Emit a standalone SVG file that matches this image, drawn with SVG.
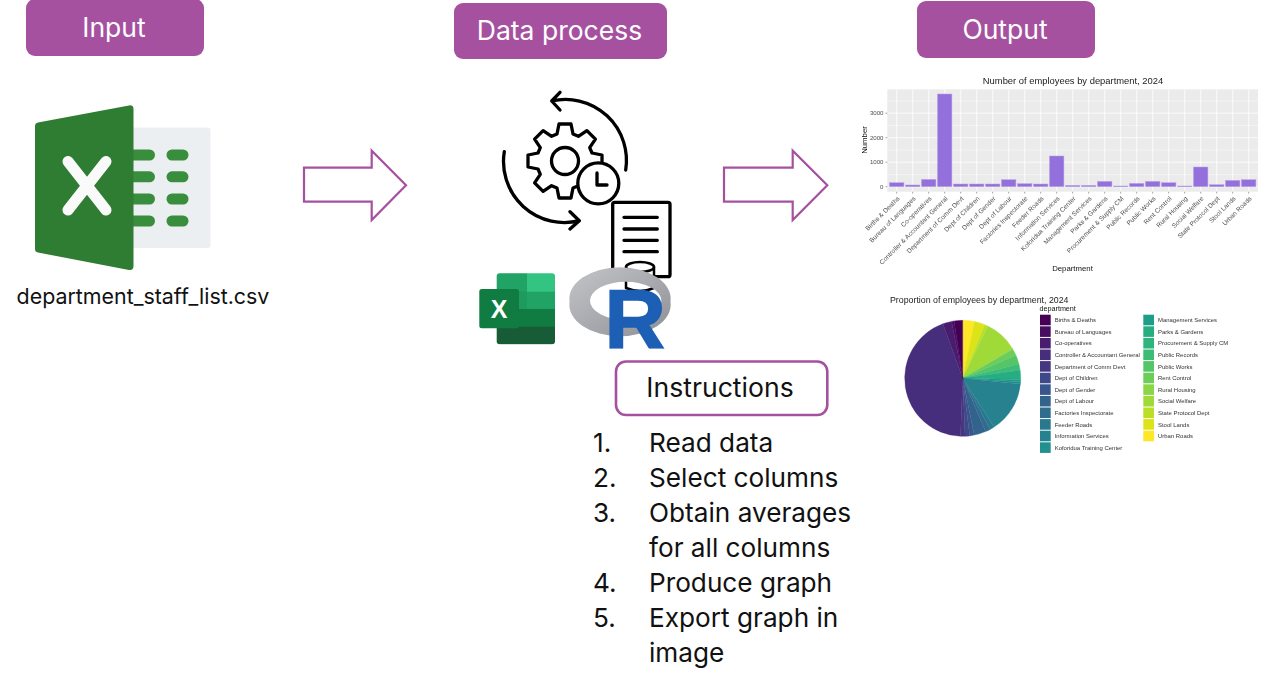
<svg xmlns="http://www.w3.org/2000/svg" width="1262" height="688" viewBox="0 0 1262 688">
<style>
.hdr{fill:#A6519F}
.hdrt{fill:#fff;font:26.5px Inter,"Noto Sans",sans-serif;text-anchor:middle}
.blk{fill:#111;font:26.2px Inter,"Noto Sans",sans-serif}
.arrow{fill:#fff;stroke:#A6519F;stroke-width:2.2}
.ar{font-family:"Liberation Sans",Arial,sans-serif}
.t{font-size:9.4px;fill:#222}
.ax{font-size:7.8px;fill:#111;text-anchor:middle}
.tick{font-size:6.5px;fill:#4d4d4d;text-anchor:end}
.ytick{font-size:6.1px;fill:#4d4d4d;text-anchor:end}
.bar{fill:#9370DB;stroke:#B9A2E8;stroke-width:.5}
.lg{font-size:5.95px;fill:#333}
.ic{fill:none;stroke:#000;stroke-width:3.3;stroke-linecap:round;stroke-linejoin:round}
.bl{fill:#388E3C}
</style>
<defs>
<filter id="soft" x="-5%" y="-5%" width="110%" height="110%"><feGaussianBlur stdDeviation="0.5"/></filter>
<linearGradient id="ring" x1="0" y1="0" x2="1" y2="1"><stop offset="0" stop-color="#c4c5c9"/><stop offset="0.6" stop-color="#a4a5aa"/><stop offset="1" stop-color="#8f9095"/></linearGradient>
<clipPath id="xl"><rect x="496.7" y="273.3" width="58.3" height="71" rx="3"/></clipPath>
<clipPath id="rclip"><rect x="600" y="280" width="80" height="68.5"/></clipPath>
</defs>

<g id="connectors">
<path class="arrow" d="M304 167.7H371.7V150.7L406 185.3 371.7 220V201.7H304Z"/>
<path class="arrow" d="M724 167.7H792.7V150.7L827.3 185.3 792.7 220V201.7H724Z"/>
</g>

<g id="input-header"><rect class="hdr" x="26" y="-1" width="178" height="57" rx="9"/><text class="hdrt" x="114" y="37">Input</text></g>
<g id="process-header"><rect class="hdr" x="454" y="3" width="213" height="56" rx="9"/><text class="hdrt" x="559.5" y="40">Data process</text></g>
<g id="output-header"><rect class="hdr" x="917" y="1" width="178" height="57" rx="9"/><text class="hdrt" x="1005" y="39">Output</text></g>

<g id="input-file">
<rect x="125" y="127.5" width="85.5" height="120.5" rx="3" fill="#ECEFF1"/>
<rect class="bl" x="125" y="149.5" width="30" height="11" rx="5.5"/><rect class="bl" x="125" y="171.3" width="30" height="11" rx="5.5"/><rect class="bl" x="125" y="193.5" width="30" height="11" rx="5.5"/><rect class="bl" x="125" y="215.5" width="30" height="11" rx="5.5"/>
<rect class="bl" x="166.5" y="149.5" width="22" height="11" rx="5.5"/><rect class="bl" x="166.5" y="171.3" width="22" height="11" rx="5.5"/><rect class="bl" x="166.5" y="193.5" width="22" height="11" rx="5.5"/><rect class="bl" x="166.5" y="215.5" width="22" height="11" rx="5.5"/>
<path d="M38 122.5 129 105.4Q133.5 104.8 133.5 109V266Q133.5 270.6 129 270L38 252.5Q35 252 35 249V126Q35 123 38 122.5Z" fill="#2E7D32"/>
<path d="M68 161.5 106 210M106 161.5 68 210" stroke="#FAFAFA" stroke-width="11" stroke-linecap="round" fill="none"/>
<text class="blk" x="143" y="304" text-anchor="middle" style="font-size:21.4px">department_staff_list.csv</text>
</g>

<g id="process-icons">
<g filter="url(#soft)">
<rect class="ic" x="612.7" y="202.3" width="57.3" height="74.4" rx="2"/>
<path class="ic" d="M624 217.3H657.3M624 229H657.3M624 240.3H657.3M624 251.7H657.3"/>
<ellipse cx="640" cy="267" rx="14" ry="5" fill="#fff" stroke="#000" stroke-width="2.5"/>
<path class="ic" d="M626 267V288M654 267V288M626 288Q640 294 654 288" style="stroke-width:2.5"/>
<path class="ic" d="M625.7 170A61 61 0 0 0 551.7 101M560 92.3 551.7 101 560 110"/>
<path class="ic" d="M504.3 151.7A61 61 0 0 0 579.3 220.7M570 211.7 579.3 220.7 570 229"/>
<path class="ic" transform="translate(565 161)" d="M-8-27-6-37H6L8-27 13.4-24.7 21.9-30.4 30.4-21.9 24.7-13.4 27-8 37-6V6L27 8 24.7 13.4 30.4 21.9 21.9 30.4 13.4 24.7 8 27 6 37H-6L-8 27-13.4 24.7-21.9 30.4-30.4 21.9-24.7 13.4-27 8-37 6V-6L-27-8-24.7-13.4-30.4-21.9-21.9-30.4-13.4-24.7Z"/>
<circle class="ic" cx="565" cy="161" r="13.5"/>
<circle class="ic" cx="598.3" cy="183.3" r="20.5" style="fill:#fff"/>
<path class="ic" d="M597 173V185H607"/>
</g>
<g clip-path="url(#xl)">
<rect x="496" y="273" width="31" height="19" fill="#21A366"/><rect x="527" y="273" width="29" height="19" fill="#33C481"/>
<rect x="496" y="291.7" width="31" height="18" fill="#1E9A5E"/><rect x="527" y="291.7" width="29" height="18" fill="#21A366"/>
<rect x="496" y="309" width="60" height="18" fill="#107C41"/>
<rect x="496" y="326.7" width="60" height="18" fill="#185C37"/>
</g>
<rect x="479.3" y="289" width="39.7" height="39.3" rx="2.5" fill="#107C41"/>
<text class="ar" x="499" y="317.5" text-anchor="middle" font-size="25" font-weight="700" fill="#fff">X</text>
<path fill="url(#ring)" fill-rule="evenodd" d="M569.5 301.7A50.7 31.7 0 1 1 670.5 301.7 50.7 31.7 0 1 1 569.5 301.7ZM590 300.7A35.7 19 0 1 0 661.4 300.7 35.7 19 0 1 0 590 300.7Z"/>
<g clip-path="url(#rclip)"><text class="ar" x="604.5" y="348.5" font-size="85" font-weight="700" fill="#1C5FB5" stroke="#1C5FB5" stroke-width="1.5">R</text></g>
</g>

<g id="instructions">
<rect x="616" y="361.5" width="211.3" height="53.5" rx="10" fill="#fff" stroke="#A6519F" stroke-width="2.6"/>
<text class="blk" x="720" y="397" text-anchor="middle" style="font-size:26.6px">Instructions</text>
</g>
<g id="steps">
<text class="blk" x="593" y="452">1.</text><text class="blk" x="649" y="452">Read data</text>
<text class="blk" x="593" y="487">2.</text><text class="blk" x="649" y="487">Select columns</text>
<text class="blk" x="593" y="522">3.</text><text class="blk" x="649" y="522">Obtain averages</text>
<text class="blk" x="649" y="557">for all columns</text>
<text class="blk" x="593" y="592">4.</text><text class="blk" x="649" y="592">Produce graph</text>
<text class="blk" x="593" y="627">5.</text><text class="blk" x="649" y="627">Export graph in</text>
<text class="blk" x="649" y="662">image</text>
</g>

<g id="bar-chart" class="ar" filter="url(#soft)">
<text class="t" x="1073" y="83.5" text-anchor="middle">Number of employees by department, 2024</text>
<rect x="887.3" y="89.3" width="370.7" height="102.4" fill="#EBEBEB"/>
<path d="M887.3 174.5H1258M887.3 150H1258M887.3 125.5H1258M887.3 101H1258" stroke="#fff" stroke-width=".4" fill="none"/>
<path d="M887.3 186.7H1258M887.3 162.2H1258M887.3 137.7H1258M887.3 113.2H1258M896.7 89.3V191.7M912.7 89.3V191.7M928.7 89.3V191.7M944.7 89.3V191.7M960.7 89.3V191.7M976.7 89.3V191.7M992.7 89.3V191.7M1008.7 89.3V191.7M1024.7 89.3V191.7M1040.7 89.3V191.7M1056.7 89.3V191.7M1072.7 89.3V191.7M1088.7 89.3V191.7M1104.7 89.3V191.7M1120.7 89.3V191.7M1136.7 89.3V191.7M1152.7 89.3V191.7M1168.7 89.3V191.7M1184.7 89.3V191.7M1200.7 89.3V191.7M1216.7 89.3V191.7M1232.7 89.3V191.7M1248.7 89.3V191.7" stroke="#fff" stroke-width=".8" fill="none"/>
<rect class="bar" x="889.5" y="182.7" width="14.4" height="4"/><rect class="bar" x="905.5" y="185" width="14.4" height="1.7"/><rect class="bar" x="921.5" y="179.4" width="14.4" height="7.3"/><rect class="bar" x="937.5" y="94" width="14.4" height="92.7"/><rect class="bar" x="953.5" y="184" width="14.4" height="2.7"/><rect class="bar" x="969.5" y="184" width="14.4" height="2.7"/><rect class="bar" x="985.5" y="184" width="14.4" height="2.7"/><rect class="bar" x="1001.5" y="179.7" width="14.4" height="7"/><rect class="bar" x="1017.5" y="183.7" width="14.4" height="3"/><rect class="bar" x="1033.5" y="184" width="14.4" height="2.7"/><rect class="bar" x="1049.5" y="156" width="14.4" height="30.7"/><rect class="bar" x="1065.5" y="185.4" width="14.4" height="1.3"/><rect class="bar" x="1081.5" y="185.4" width="14.4" height="1.3"/><rect class="bar" x="1097.5" y="181.4" width="14.4" height="5.3"/><rect class="bar" x="1113.5" y="186" width="14.4" height=".7"/><rect class="bar" x="1129.5" y="183.4" width="14.4" height="3.3"/><rect class="bar" x="1145.5" y="181.4" width="14.4" height="5.3"/><rect class="bar" x="1161.5" y="182.7" width="14.4" height="4"/><rect class="bar" x="1177.5" y="186" width="14.4" height=".7"/><rect class="bar" x="1193.5" y="167" width="14.4" height="19.7"/><rect class="bar" x="1209.5" y="184.7" width="14.4" height="2"/><rect class="bar" x="1225.5" y="180.4" width="14.4" height="6.3"/><rect class="bar" x="1241.5" y="179.7" width="14.4" height="7"/>
<path d="M885.5 186.7H887.3M885.5 162.2H887.3M885.5 137.7H887.3M885.5 113.2H887.3M896.7 191.7V193.5M912.7 191.7V193.5M928.7 191.7V193.5M944.7 191.7V193.5M960.7 191.7V193.5M976.7 191.7V193.5M992.7 191.7V193.5M1008.7 191.7V193.5M1024.7 191.7V193.5M1040.7 191.7V193.5M1056.7 191.7V193.5M1072.7 191.7V193.5M1088.7 191.7V193.5M1104.7 191.7V193.5M1120.7 191.7V193.5M1136.7 191.7V193.5M1152.7 191.7V193.5M1168.7 191.7V193.5M1184.7 191.7V193.5M1200.7 191.7V193.5M1216.7 191.7V193.5M1232.7 191.7V193.5M1248.7 191.7V193.5" stroke="#444" stroke-width=".5" fill="none"/>
<text class="ytick" x="883.5" y="188.9">0</text><text class="ytick" x="883.5" y="164.4">1000</text><text class="ytick" x="883.5" y="139.9">2000</text><text class="ytick" x="883.5" y="115.4">3000</text>
<text class="tick" transform="translate(900 199) rotate(-45)">Births &amp; Deaths</text>
<text class="tick" transform="translate(916 199) rotate(-45)">Bureau of Languages</text>
<text class="tick" transform="translate(932 199) rotate(-45)">Co-operatives</text>
<text class="tick" transform="translate(948 199) rotate(-45)">Controller &amp; Accountant General</text>
<text class="tick" transform="translate(964 199) rotate(-45)">Department of Comm Devt</text>
<text class="tick" transform="translate(980 199) rotate(-45)">Dept of Children</text>
<text class="tick" transform="translate(996 199) rotate(-45)">Dept of Gender</text>
<text class="tick" transform="translate(1012 199) rotate(-45)">Dept of Labour</text>
<text class="tick" transform="translate(1028 199) rotate(-45)">Factories Inspectorate</text>
<text class="tick" transform="translate(1044 199) rotate(-45)">Feeder Roads</text>
<text class="tick" transform="translate(1060 199) rotate(-45)">Information Services</text>
<text class="tick" transform="translate(1076 199) rotate(-45)">Koforidua Training Center</text>
<text class="tick" transform="translate(1092 199) rotate(-45)">Management Services</text>
<text class="tick" transform="translate(1108 199) rotate(-45)">Parks &amp; Gardens</text>
<text class="tick" transform="translate(1124 199) rotate(-45)">Procurement &amp; Supply CM</text>
<text class="tick" transform="translate(1140 199) rotate(-45)">Public Records</text>
<text class="tick" transform="translate(1156 199) rotate(-45)">Public Works</text>
<text class="tick" transform="translate(1172 199) rotate(-45)">Rent Control</text>
<text class="tick" transform="translate(1188 199) rotate(-45)">Rural Housing</text>
<text class="tick" transform="translate(1204 199) rotate(-45)">Social Welfare</text>
<text class="tick" transform="translate(1220 199) rotate(-45)">State Protocol Dept</text>
<text class="tick" transform="translate(1236 199) rotate(-45)">Stool Lands</text>
<text class="tick" transform="translate(1252 199) rotate(-45)">Urban Roads</text>
<text class="ax" x="1072.5" y="270.5">Department</text>
<text class="ax" transform="translate(866.5 140) rotate(-90)">Number</text>
</g>

<g id="pie-chart" class="ar" filter="url(#soft)">
<text class="t" x="890" y="303.2" style="font-size:8.8px">Proportion of employees by department, 2024</text>
<text x="1039.5" y="311" font-size="7.2" fill="#111">department</text>
<g stroke-width=".3">
<path fill="#FDE725" stroke="#FDE725" d="M962.7 378.3V320.3A58 58 0 0 1 974.5 321.5Z"/>
<path fill="#DCE319" stroke="#DCE319" d="M962.7 378.3L974.5 321.5A58 58 0 0 1 984.8 324.7Z"/>
<path fill="#BBDF27" stroke="#BBDF27" d="M962.7 378.3L984.8 324.7A58 58 0 0 1 987.9 326Z"/>
<path fill="#A0DA39" stroke="#A0DA39" d="M962.7 378.3L987.9 326A58 58 0 0 1 1012.3 348.2Z"/>
<path fill="#8BD646" stroke="#8BD646" d="M962.7 378.3L1012.3 348.2A58 58 0 0 1 1012.9 349.2Z"/>
<path fill="#6DCD59" stroke="#6DCD59" d="M962.7 378.3L1012.9 349.2A58 58 0 0 1 1016 355.3Z"/>
<path fill="#55C667" stroke="#55C667" d="M962.7 378.3L1016 355.3A58 58 0 0 1 1018.9 363.9Z"/>
<path fill="#3CBC75" stroke="#3CBC75" d="M962.7 378.3L1018.9 363.9A58 58 0 0 1 1020 369.5Z"/>
<path fill="#2FB47C" stroke="#2FB47C" d="M962.7 378.3L1020 369.5A58 58 0 0 1 1020.2 370.3Z"/>
<path fill="#27AD81" stroke="#27AD81" d="M962.7 378.3L1020.2 370.3A58 58 0 0 1 1020.7 379.4Z"/>
<path fill="#1F9E89" stroke="#1F9E89" d="M962.7 378.3L1020.7 379.4A58 58 0 0 1 1020.6 381.7Z"/>
<path fill="#21908C" stroke="#21908C" d="M962.7 378.3L1020.6 381.7A58 58 0 0 1 1020.4 384Z"/>
<path fill="#26828E" stroke="#26828E" d="M962.7 378.3L1020.4 384A58 58 0 0 1 994.1 427.1Z"/>
<path fill="#2A788E" stroke="#2A788E" d="M962.7 378.3L994.1 427.1A58 58 0 0 1 990.2 429.4Z"/>
<path fill="#2E6D8E" stroke="#2E6D8E" d="M962.7 378.3L990.2 429.4A58 58 0 0 1 985.6 431.6Z"/>
<path fill="#33638D" stroke="#33638D" d="M962.7 378.3L985.6 431.6A58 58 0 0 1 974.2 435.1Z"/>
<path fill="#39568C" stroke="#39568C" d="M962.7 378.3L974.2 435.1A58 58 0 0 1 969.7 435.9Z"/>
<path fill="#3E4A89" stroke="#3E4A89" d="M962.7 378.3L969.7 435.9A58 58 0 0 1 965.1 436.3Z"/>
<path fill="#453781" stroke="#453781" d="M962.7 378.3L965.1 436.3A58 58 0 0 1 960.5 436.3Z"/>
<path fill="#472D7B" stroke="#472D7B" d="M962.7 378.3L960.5 436.3A58 58 0 0 1 942.9 323.8Z"/>
<path fill="#481D6F" stroke="#481D6F" d="M962.7 378.3L942.9 323.8A58 58 0 0 1 951.6 321.4Z"/>
<path fill="#470E61" stroke="#470E61" d="M962.7 378.3L951.6 321.4A58 58 0 0 1 954.1 320.9Z"/>
<path fill="#440154" stroke="#440154" d="M962.7 378.3L954.1 320.9A58 58 0 0 1 962.7 320.3Z"/>
</g>
<rect x="1040" y="314.7" width="10.7" height="10.6" fill="#440154"/><text class="lg" x="1054.7" y="322.2">Births &amp; Deaths</text>
<rect x="1040" y="326.3" width="10.7" height="10.6" fill="#470E61"/><text class="lg" x="1054.7" y="333.8">Bureau of Languages</text>
<rect x="1040" y="337.9" width="10.7" height="10.6" fill="#481D6F"/><text class="lg" x="1054.7" y="345.4">Co-operatives</text>
<rect x="1040" y="349.5" width="10.7" height="10.6" fill="#472D7B"/><text class="lg" x="1054.7" y="357">Controller &amp; Accountant General</text>
<rect x="1040" y="361.1" width="10.7" height="10.6" fill="#453781"/><text class="lg" x="1054.7" y="368.6">Department of Comm Devt</text>
<rect x="1040" y="372.7" width="10.7" height="10.6" fill="#3E4A89"/><text class="lg" x="1054.7" y="380.2">Dept of Children</text>
<rect x="1040" y="384.3" width="10.7" height="10.6" fill="#39568C"/><text class="lg" x="1054.7" y="391.8">Dept of Gender</text>
<rect x="1040" y="395.9" width="10.7" height="10.6" fill="#33638D"/><text class="lg" x="1054.7" y="403.4">Dept of Labour</text>
<rect x="1040" y="407.5" width="10.7" height="10.6" fill="#2E6D8E"/><text class="lg" x="1054.7" y="415">Factories Inspectorate</text>
<rect x="1040" y="419.1" width="10.7" height="10.6" fill="#2A788E"/><text class="lg" x="1054.7" y="426.6">Feeder Roads</text>
<rect x="1040" y="430.7" width="10.7" height="10.6" fill="#26828E"/><text class="lg" x="1054.7" y="438.2">Information Services</text>
<rect x="1040" y="442.3" width="10.7" height="10.6" fill="#21908C"/><text class="lg" x="1054.7" y="449.8">Koforidua Training Center</text>
<rect x="1143.3" y="314.7" width="10.7" height="10.6" fill="#1F9E89"/><text class="lg" x="1158" y="322.2">Management Services</text>
<rect x="1143.3" y="326.3" width="10.7" height="10.6" fill="#27AD81"/><text class="lg" x="1158" y="333.8">Parks &amp; Gardens</text>
<rect x="1143.3" y="337.9" width="10.7" height="10.6" fill="#2FB47C"/><text class="lg" x="1158" y="345.4">Procurement &amp; Supply CM</text>
<rect x="1143.3" y="349.5" width="10.7" height="10.6" fill="#3CBC75"/><text class="lg" x="1158" y="357">Public Records</text>
<rect x="1143.3" y="361.1" width="10.7" height="10.6" fill="#55C667"/><text class="lg" x="1158" y="368.6">Public Works</text>
<rect x="1143.3" y="372.7" width="10.7" height="10.6" fill="#6DCD59"/><text class="lg" x="1158" y="380.2">Rent Control</text>
<rect x="1143.3" y="384.3" width="10.7" height="10.6" fill="#8BD646"/><text class="lg" x="1158" y="391.8">Rural Housing</text>
<rect x="1143.3" y="395.9" width="10.7" height="10.6" fill="#A0DA39"/><text class="lg" x="1158" y="403.4">Social Welfare</text>
<rect x="1143.3" y="407.5" width="10.7" height="10.6" fill="#BBDF27"/><text class="lg" x="1158" y="415">State Protocol Dept</text>
<rect x="1143.3" y="419.1" width="10.7" height="10.6" fill="#DCE319"/><text class="lg" x="1158" y="426.6">Stool Lands</text>
<rect x="1143.3" y="430.7" width="10.7" height="10.6" fill="#FDE725"/><text class="lg" x="1158" y="438.2">Urban Roads</text>
</g>
</svg>
